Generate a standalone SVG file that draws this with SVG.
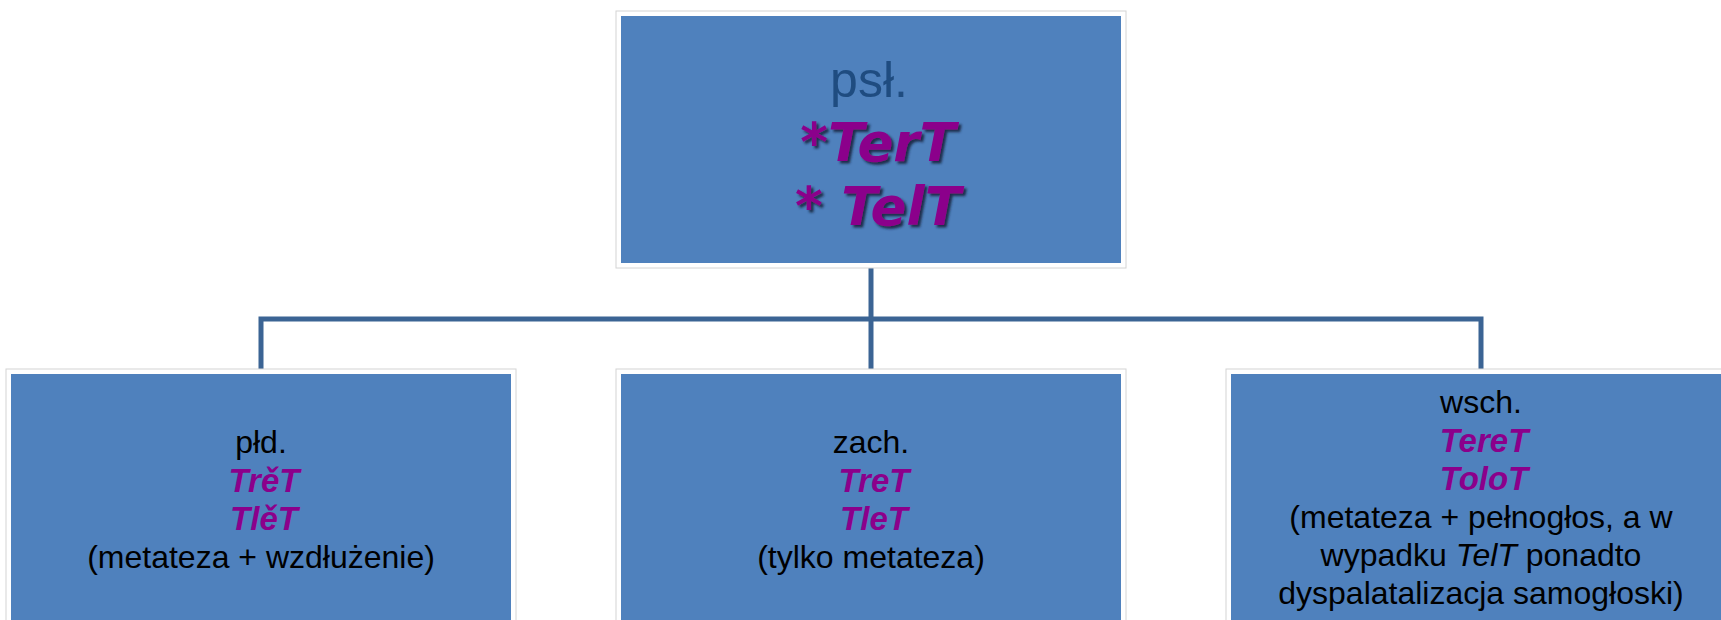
<svg xmlns="http://www.w3.org/2000/svg" width="1721" height="620" viewBox="0 0 1721 620">
  <defs>
    <filter id="shadow" x="-10%" y="-20%" width="130%" height="150%">
      <feDropShadow dx="2.5" dy="2.5" stdDeviation="1" flood-color="#14213d" flood-opacity="0.9"/>
    </filter>
    <style>
      .frame { fill: #ffffff; stroke: #d4d4d4; stroke-width: 1; }
      .box { fill: #4F81BD; }
      .conn { fill: none; stroke: #3B6494; stroke-width: 5; stroke-linecap: butt; stroke-linejoin: miter; }
      .reg { font-family: "Liberation Sans", Arial, sans-serif; font-size: 32px; fill: #000000; text-anchor: middle; }
      .pur { font-family: "Liberation Sans", Arial, sans-serif; font-size: 33px; font-weight: bold; font-style: italic; fill: #8B008B; text-anchor: middle; }
      .toplbl { font-family: "Liberation Sans", Arial, sans-serif; font-size: 50px; fill: #1F4C80; text-anchor: middle; }
      .topp { font-family: "DejaVu Sans", Verdana, sans-serif; font-size: 53px; font-weight: bold; font-style: italic; fill: #8B008B; text-anchor: middle; filter: url(#shadow); }
    </style>
  </defs>

  <rect x="0" y="0" width="1721" height="620" fill="#ffffff"/>

  <g id="connectors">
    <path class="conn" d="M871 266 V374"/>
    <path class="conn" d="M261 374 V319 H1481 V374"/>
  </g>

  <g id="node-psl">
    <rect class="frame" x="616" y="11" width="510" height="257"/>
    <rect class="box" x="621" y="16" width="500" height="247"/>
    <text class="toplbl" x="869" y="97">psł.</text>
    <text class="topp" x="878" y="161">*TerT</text>
    <text class="topp" x="878" y="225">* TelT</text>
  </g>

  <g id="node-pld">
    <rect class="frame" x="6" y="369" width="510" height="260"/>
    <rect class="box" x="11" y="374" width="500" height="260"/>
    <text class="reg" x="261" y="453">płd.</text>
    <text class="pur" x="264" y="491.5">TrěT</text>
    <text class="pur" x="264" y="530">TlěT</text>
    <text class="reg" x="261" y="568">(metateza + wzdłużenie)</text>
  </g>

  <g id="node-zach">
    <rect class="frame" x="616" y="369" width="510" height="260"/>
    <rect class="box" x="621" y="374" width="500" height="260"/>
    <text class="reg" x="871" y="453">zach.</text>
    <text class="pur" x="874" y="491.5">TreT</text>
    <text class="pur" x="874" y="530">TleT</text>
    <text class="reg" x="871" y="568">(tylko metateza)</text>
  </g>

  <g id="node-wsch">
    <rect class="frame" x="1226" y="369" width="510" height="260"/>
    <rect class="box" x="1231" y="374" width="500" height="260"/>
    <text class="reg" x="1481" y="413">wsch.</text>
    <text class="pur" x="1484" y="451.5">TereT</text>
    <text class="pur" x="1484" y="489.5">ToloT</text>
    <text class="reg" x="1481" y="528">(metateza + pełnogłos, a w</text>
    <text class="reg" x="1481" y="566">wypadku <tspan font-style="italic">TelT</tspan> ponadto</text>
    <text class="reg" x="1481" y="604">dyspalatalizacja samogłoski)</text>
  </g>
</svg>
